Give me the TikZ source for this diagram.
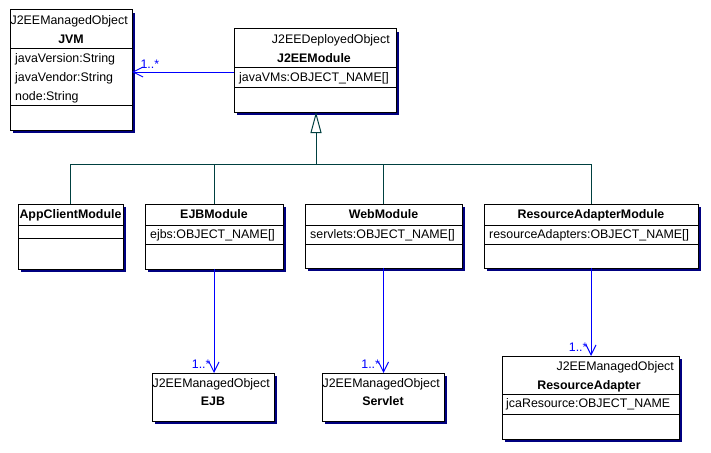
\documentclass[tikz,border=0pt]{standalone}
\usepackage{fontspec}
\setmainfont{Liberation Sans}
\usetikzlibrary{arrows.meta,shadows}
\definecolor{genteal}{RGB}{0,64,64}
\definecolor{assocblue}{RGB}{0,0,255}
\definecolor{shadownavy}{RGB}{0,0,128}
\newcommand\umlfont{\fontsize{12.4}{14}\selectfont}

\tikzset{
  classbox/.style={draw, fill=white, anchor=north west, inner sep=0pt, outer sep=0pt,
    line width=1pt, general shadow={fill=shadownavy, shadow xshift=3pt, shadow yshift=-3pt}},
  stereo/.style={inner sep=0pt, anchor=mid east, font=\umlfont},
  cname/.style={inner sep=0pt, anchor=mid, font=\umlfont\bfseries},
  attr/.style={inner sep=0pt, anchor=mid west, font=\umlfont},
  divider/.style={line width=0.8pt},
  gen/.style={genteal, line width=1pt},
  assoc/.style={assocblue, line width=1pt, -{Straight Barb[length=10pt,width=10pt]}},
  mult/.style={assocblue, inner sep=0pt, font=\umlfont}
}

\begin{document}
\begin{tikzpicture}[x=1pt,y=-1pt]
    \useasboundingbox (0,0) rectangle (711,452);

    % JVM
    \node[classbox, minimum width=122pt, minimum height=120pt] (jvm) at (10,10) {};
    \node[stereo] (jvmst) at (128,22) {J2EEManagedObject};
    \node[cname] (jvmname) at (71,41) {JVM};
    \draw[divider] (jvm.west |- 0,48) -- (jvm.east |- 0,48);
    \node[attr] (jvmver) at (15,60) {javaVersion:String};
    \node[attr] (jvmvend) at (15,79) {javaVendor:String};
    \node[attr] (jvmnode) at (15,98) {node:String};
    \draw[divider] (jvm.west |- 0,105) -- (jvm.east |- 0,105);

    % J2EEModule
    \node[classbox, minimum width=162pt, minimum height=83pt] (mod) at (234,29) {};
    \node[stereo] (modst) at (390,41) {J2EEDeployedObject};
    \node[cname] (modname) at (314,60) {J2EEModule};
    \draw[divider] (mod.west |- 0,67) -- (mod.east |- 0,67);
    \node[attr] (modvms) at (239,79) {javaVMs:OBJECT\_NAME[]};
    \draw[divider] (mod.west |- 0,87) -- (mod.east |- 0,87);

    % modules
    \node[classbox, minimum width=105pt, minimum height=65pt] (appc) at (18,204) {};
    \node[cname] (appcname) at (70.5,216) {AppClientModule};
    \draw[divider] (appc.west |- 0,225) -- (appc.east |- 0,225);
    \draw[divider] (appc.west |- 0,238) -- (appc.east |- 0,238);

    \node[classbox, minimum width=138pt, minimum height=65pt] (ejbm) at (145,204) {};
    \node[cname] (ejbmname) at (214,216) {EJBModule};
    \draw[divider] (ejbm.west |- 0,225) -- (ejbm.east |- 0,225);
    \node[attr] (ejbmejbs) at (150,236) {ejbs:OBJECT\_NAME[]};
    \draw[divider] (ejbm.west |- 0,244) -- (ejbm.east |- 0,244);

    \node[classbox, minimum width=157pt, minimum height=64pt] (webm) at (305,204) {};
    \node[cname] (webmname) at (383.5,216) {WebModule};
    \draw[divider] (webm.west |- 0,225) -- (webm.east |- 0,225);
    \node[attr] (webmserv) at (310,236) {servlets:OBJECT\_NAME[]};
    \draw[divider] (webm.west |- 0,244) -- (webm.east |- 0,244);

    \node[classbox, minimum width=214pt, minimum height=64pt] (ram) at (484,204) {};
    \node[cname] (ramname) at (591,216) {ResourceAdapterModule};
    \draw[divider] (ram.west |- 0,225) -- (ram.east |- 0,225);
    \node[attr] (ramres) at (489,236) {resourceAdapters:OBJECT\_NAME[]};
    \draw[divider] (ram.west |- 0,244) -- (ram.east |- 0,244);

    % managed objects
    \node[classbox, minimum width=122pt, minimum height=48pt] (ejb) at (152,373) {};
    \node[stereo] (ejbst) at (270,385) {J2EEManagedObject};
    \node[cname] (ejbname) at (213,403) {EJB};

    \node[classbox, minimum width=122pt, minimum height=48pt] (serv) at (322,373) {};
    \node[stereo] (servst) at (440,385) {J2EEManagedObject};
    \node[cname] (servname) at (383,403) {Servlet};

    \node[classbox, minimum width=177pt, minimum height=83pt] (ra) at (502,356) {};
    \node[stereo] (rast) at (674,368) {J2EEManagedObject};
    \node[cname] (raname) at (589,387) {ResourceAdapter};
    \draw[divider] (ra.west |- 0,394) -- (ra.east |- 0,394);
    \node[attr] (rajca) at (506,405) {jcaResource:OBJECT\_NAME};
    \draw[divider] (ra.west |- 0,414) -- (ra.east |- 0,414);

    % generalization
    \coordinate (bus) at (316,164);
    \draw[gen, -{Triangle[open,fill=white,length=21pt,width=11pt]}] (bus) -- (mod.south -| bus);
    \draw[gen] (appc.north) -- (appc.north |- bus) -- (ram.north |- bus) -- (ram.north);
    \draw[gen] (ejbm.north) -- (ejbm.north |- bus);
    \draw[gen] (webm.north) -- (webm.north |- bus);

    % associations
    \draw[assoc] (mod.west |- 0,72) -- (jvm.east |- 0,72)
      node[mult, anchor=south west, xshift=8pt, yshift=3pt] (jvmmult) {1..*};
    \draw[assoc] (ejbm.south) -- (ejbm.south |- ejb.north)
      node[mult, anchor=south east, xshift=-3pt, yshift=4pt] (ejbmult) {1..*};
    \draw[assoc] (webm.south) -- (webm.south |- serv.north)
      node[mult, anchor=south east, xshift=-3pt, yshift=4pt] (servmult) {1..*};
    \draw[assoc] (ram.south) -- (ram.south |- ra.north)
      node[mult, anchor=south east, xshift=-3pt, yshift=4pt] (ramult) {1..*};
\end{tikzpicture}
\end{document}
